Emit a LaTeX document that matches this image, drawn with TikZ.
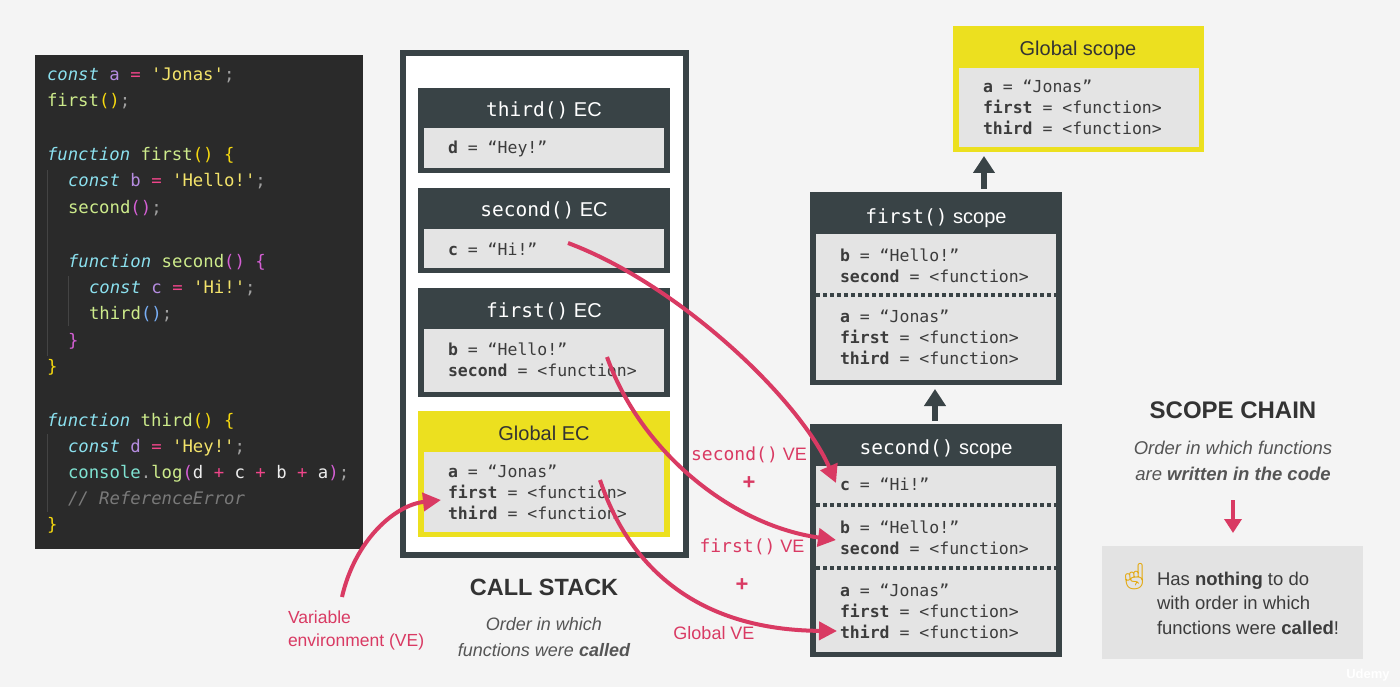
\documentclass[tikz,border=0pt]{standalone}
\usepackage{fontspec}
\setmainfont{Liberation Sans}
\setmonofont{DejaVu Sans Mono}
\newfontfamily\emj{Noto Emoji}
\usetikzlibrary{arrows.meta}
\definecolor{bgc}{HTML}{F4F4F4}
\definecolor{dark}{HTML}{394346}
\definecolor{ing}{HTML}{E4E4E4}
\definecolor{yel}{HTML}{ECE01F}
\definecolor{pinkc}{HTML}{D93A63}
\definecolor{codebg}{HTML}{2A2A2A}
\definecolor{txt}{HTML}{333333}
\definecolor{subt}{HTML}{555555}
\definecolor{valc}{HTML}{3C3C3C}
\definecolor{kwc}{HTML}{8BE0EE}
\definecolor{vrc}{HTML}{B58CE0}
\definecolor{eqc}{HTML}{F0458A}
\definecolor{stc}{HTML}{F3E36A}
\definecolor{fnc}{HTML}{CDEB8B}
\definecolor{pyc}{HTML}{F5D80F}
\definecolor{ppc}{HTML}{D45FD4}
\definecolor{pbc}{HTML}{78AEF5}
\definecolor{scc}{HTML}{A0A0A0}
\definecolor{cnc}{HTML}{7FE3D2}
\definecolor{wtc}{HTML}{EDEDED}
\definecolor{cmc}{HTML}{7A7A7A}
\definecolor{guidec}{HTML}{444444}
\definecolor{chainbox}{HTML}{E3E3E3}
\definecolor{emoc}{HTML}{E3A80C}
\newcommand\setfs[1]{\fontsize{#1}{#1}\selectfont}
\newcommand\jxkw[1]{{\color{kwc}\itshape #1}}
\newcommand\jxvr[1]{{\color{vrc}#1}}
\newcommand\jxeq[1]{{\color{eqc}#1}}
\newcommand\jxst[1]{{\color{stc}#1}}
\newcommand\jxfn[1]{{\color{fnc}#1}}
\newcommand\jxpy[1]{{\color{pyc}#1}}
\newcommand\jxpp[1]{{\color{ppc}#1}}
\newcommand\jxpb[1]{{\color{pbc}#1}}
\newcommand\jxsc[1]{{\color{scc}#1}}
\newcommand\jxcn[1]{{\color{cnc}#1}}
\newcommand\jxwt[1]{{\color{wtc}#1}}
\newcommand\jxcm[1]{{\color{cmc}\itshape #1}}
\newcommand\jxvb[1]{\textbf{#1}}
\tikzset{
  every node/.style={inner sep=0pt, outer sep=0pt},
  darkbox/.style={fill=dark, anchor=north west},
  ybox/.style={fill=yel, anchor=north west},
  inbox/.style={fill=ing, anchor=north west},
  codeln/.style={anchor=base west, font=\ttfamily\setfs{17.3}},
  val/.style={anchor=base west, font=\ttfamily\setfs{16.5}, text=valc},
  ttl/.style={anchor=base, font=\setfs{20}, text=white},
  yttl/.style={anchor=base, font=\setfs{20}, text=txt},
  pk/.style={draw=pinkc, line width=4pt, -{Triangle[length=18pt,width=18pt]}},
  uparr/.style={draw=dark, line width=6pt, -{Triangle[length=17pt,width=21pt]}},
  dots/.style={draw=dark, line width=4pt, dash pattern=on 4pt off 3pt},
  guide/.style={draw=guidec, line width=1pt},
  velbl/.style={text=pinkc, font=\setfs{18}},
  big/.style={text=txt, font=\bfseries\setfs{23.5}},
  subl/.style={text=subt, font=\itshape\setfs{18.5}},
}
\begin{document}
\begin{tikzpicture}[x=1pt,y=-1pt]
\useasboundingbox (0,0) rectangle (1400,687);
\fill[bgc] (0,0) rectangle (1400,687);

% ---------------- code panel ----------------
\node[fill=codebg, anchor=north west, minimum width=328pt, minimum height=494pt] (code) at (35,55) {};
\draw[guide] (47,170) -- (47,356);
\draw[guide] (68,276) -- (68,326);
\draw[guide] (47,434) -- (47,512);
\node[codeln] (l1) at (47,81) {\jxkw{const} \jxvr{a} \jxeq{=} \jxst{'Jonas'}\jxsc{;}};
\node[codeln] (l2) at (47,107) {\jxfn{first}\jxpy{()}\jxsc{;}};
\node[codeln] (l3) at (47,161) {\jxkw{function} \jxfn{first}\jxpy{()} \jxpy{\{}};
\node[codeln] (l4) at (68,187) {\jxkw{const} \jxvr{b} \jxeq{=} \jxst{'Hello!'}\jxsc{;}};
\node[codeln] (l5) at (68,214) {\jxfn{second}\jxpp{()}\jxsc{;}};
\node[codeln] (l6) at (68,267) {\jxkw{function} \jxfn{second}\jxpp{()} \jxpp{\{}};
\node[codeln] (l7) at (89,293) {\jxkw{const} \jxvr{c} \jxeq{=} \jxst{'Hi!'}\jxsc{;}};
\node[codeln] (l8) at (89,319) {\jxfn{third}\jxpb{()}\jxsc{;}};
\node[codeln] (l9) at (68,346) {\jxpp{\}}};
\node[codeln] (l10) at (47,372) {\jxpy{\}}};
\node[codeln] (l11) at (47,426) {\jxkw{function} \jxfn{third}\jxpy{()} \jxpy{\{}};
\node[codeln] (l12) at (68,452) {\jxkw{const} \jxvr{d} \jxeq{=} \jxst{'Hey!'}\jxsc{;}};
\node[codeln] (l13) at (68,478) {\jxcn{console}\jxsc{.}\jxfn{log}\jxpp{(}\jxwt{d} \jxeq{+} \jxwt{c} \jxeq{+} \jxwt{b} \jxeq{+} \jxwt{a}\jxpp{)}\jxsc{;}};
\node[codeln] (l14) at (68,504) {\jxcm{// ReferenceError}};
\node[codeln] (l15) at (47,530) {\jxpy{\}}};

% ---------------- call stack ----------------
\node[draw=dark, line width=6pt, fill=white, anchor=north west, minimum width=283pt, minimum height=502pt] (stack) at (403,53) {};

\node[darkbox, minimum width=252pt, minimum height=85pt] (ec3) at (418,88) {};
\node[inbox, minimum width=240pt, minimum height=40pt] (ec3in) at (424,128) {};
\node[ttl] (ec3t) at (544,117) {{\ttfamily\setfs{19.5}third()} EC};
\node[val] (ec3a) at (448,154) {\jxvb{d} = “Hey!”};

\node[darkbox, minimum width=252pt, minimum height=85pt] (ec2) at (418,188) {};
\node[inbox, minimum width=240pt, minimum height=39pt] (ec2in) at (424,229) {};
\node[ttl] (ec2t) at (544,217) {{\ttfamily\setfs{19.5}second()} EC};
\node[val] (ec2a) at (448,255) {\jxvb{c} = “Hi!”};

\node[darkbox, minimum width=252pt, minimum height=109pt] (ec1) at (418,288) {};
\node[inbox, minimum width=240pt, minimum height=63pt] (ec1in) at (424,329) {};
\node[ttl] (ec1t) at (544,317) {{\ttfamily\setfs{19.5}first()} EC};
\node[val] (ec1a) at (448,355) {\jxvb{b} = “Hello!”};
\node[val] (ec1b) at (448,376) {\jxvb{second} = <function>};

\node[ybox, minimum width=252pt, minimum height=126pt] (ecg) at (418,411) {};
\node[inbox, minimum width=240pt, minimum height=80pt] (ecgin) at (424,452) {};
\node[yttl] (ecgt) at (544,440) {Global EC};
\node[val] (ecga) at (448,477) {\jxvb{a} = “Jonas”};
\node[val] (ecgb) at (448,498) {\jxvb{first} = <function>};
\node[val] (ecgc) at (448,519) {\jxvb{third} = <function>};

\node[big] (cs) at (544,587) {CALL STACK};
\node[subl, font=\itshape\setfs{18}] (cs1) at (544,624) {Order in which};
\node[subl, font=\itshape\setfs{18}] (cs2) at (544,650) {functions were \textbf{called}};

% ---------------- scope boxes ----------------
\node[ybox, minimum width=251pt, minimum height=126pt] (gs) at (953,26) {};
\node[inbox, minimum width=240pt, minimum height=79pt] (gsin) at (959,68) {};
\node[yttl] (gst) at (1078,56) {Global scope};
\node[val] (gsa) at (983,93) {\jxvb{a} = “Jonas”};
\node[val] (gsb) at (983,114) {\jxvb{first} = <function>};
\node[val] (gsc) at (983,135) {\jxvb{third} = <function>};

\node[darkbox, minimum width=252pt, minimum height=193pt] (fs) at (810,192) {};
\node[inbox, minimum width=240pt, minimum height=146pt] (fsin) at (816,234) {};
\node[ttl] (fst) at (936,223) {{\ttfamily\setfs{19.5}first()} scope};
\node[val] (fsa) at (840,261) {\jxvb{b} = “Hello!”};
\node[val] (fsb) at (840,282) {\jxvb{second} = <function>};
\draw[dots] (816,295) -- (1056,295);
\node[val] (fsc) at (840,322) {\jxvb{a} = “Jonas”};
\node[val] (fsd) at (840,343) {\jxvb{first} = <function>};
\node[val] (fse) at (840,364) {\jxvb{third} = <function>};

\node[darkbox, minimum width=252pt, minimum height=233pt] (ss) at (810,424) {};
\node[inbox, minimum width=240pt, minimum height=186pt] (ssin) at (816,466) {};
\node[ttl] (sst) at (936,454) {{\ttfamily\setfs{19.5}second()} scope};
\node[val] (ssa) at (840,490) {\jxvb{c} = “Hi!”};
\draw[dots] (816,505) -- (1056,505);
\node[val] (ssb) at (840,533) {\jxvb{b} = “Hello!”};
\node[val] (ssc) at (840,554) {\jxvb{second} = <function>};
\draw[dots] (816,568) -- (1056,568);
\node[val] (ssd) at (840,596) {\jxvb{a} = “Jonas”};
\node[val] (sse) at (840,617) {\jxvb{first} = <function>};
\node[val] (ssf) at (840,638) {\jxvb{third} = <function>};

% up arrows of the scope chain
\coordinate (u1s) at (984,189);
\coordinate (u1e) at (984,156);
\draw[uparr] (u1s) -- (u1e);
\coordinate (u2s) at (935,421);
\coordinate (u2e) at (935,389);
\draw[uparr] (u2s) -- (u2e);

% ---------------- VE labels ----------------
\node[velbl, anchor=center] (ve2) at (749,455) {{\ttfamily second()} VE};
\node[text=pinkc, font=\bfseries\setfs{22}] (p1) at (749,483) {+};
\node[velbl, anchor=center] (ve1) at (752,547) {{\ttfamily first()} VE};
\node[text=pinkc, font=\bfseries\setfs{22}] (p2) at (742,585) {+};
\node[velbl, anchor=center] (veg) at (714,633) {Global VE};

\node[velbl, anchor=base west, font=\setfs{17.5}] (vl1) at (288,623) {Variable};
\node[velbl, anchor=base west, font=\setfs{17.5}] (vl2) at (288,646) {environment (VE)};

% ---------------- pink arrows ----------------
\coordinate (a1s) at (568,243);
\coordinate (a1e) at (836,483);
\draw[pk] (a1s) .. controls (680,285) and (800,400) .. (a1e);
\coordinate (a2s) at (607,357);
\coordinate (a2e) at (836,540);
\draw[pk] (a2s) .. controls (640,450) and (730,525) .. (a2e);
\coordinate (a3s) at (600,480);
\coordinate (a3e) at (837,631);
\draw[pk] (a3s) .. controls (630,570) and (700,630) .. (a3e);
\coordinate (a4s) at (342,597);
\coordinate (a4e) at (441,500);
\draw[pk] (a4s) .. controls (355,540) and (395,505) .. (a4e);

% ---------------- scope chain text ----------------
\node[big, font=\bfseries\setfs{24}] (sc) at (1233,410) {SCOPE CHAIN};
\node[subl] (sc1) at (1233,448) {Order in which functions};
\node[subl] (sc2) at (1233,474) {are \textbf{written in the code}};
\coordinate (d1s) at (1233,500);
\coordinate (d1e) at (1233,533);
\draw[draw=pinkc, line width=3.5pt, -{Triangle[length=14pt,width=17pt]}] (d1s) -- (d1e);

\node[fill=chainbox, anchor=north west, minimum width=261pt, minimum height=113pt] (nb) at (1102,546) {};
\node[text=emoc, font=\emj\setfs{26}] (emo) at (1134,577) {☝};
\node[anchor=base west, text=valc, font=\setfs{18.5}] (nb1) at (1157,585) {Has \textbf{nothing} to do};
\node[anchor=base west, text=valc, font=\setfs{18.5}] (nb2) at (1157,609) {with order in which};
\node[anchor=base west, text=valc, font=\setfs{18.5}] (nb3) at (1157,634) {functions were \textbf{called}!};

\node[text=white, font=\bfseries\setfs{13}] (ud) at (1368,675) {Udemy};
\end{tikzpicture}
\end{document}
